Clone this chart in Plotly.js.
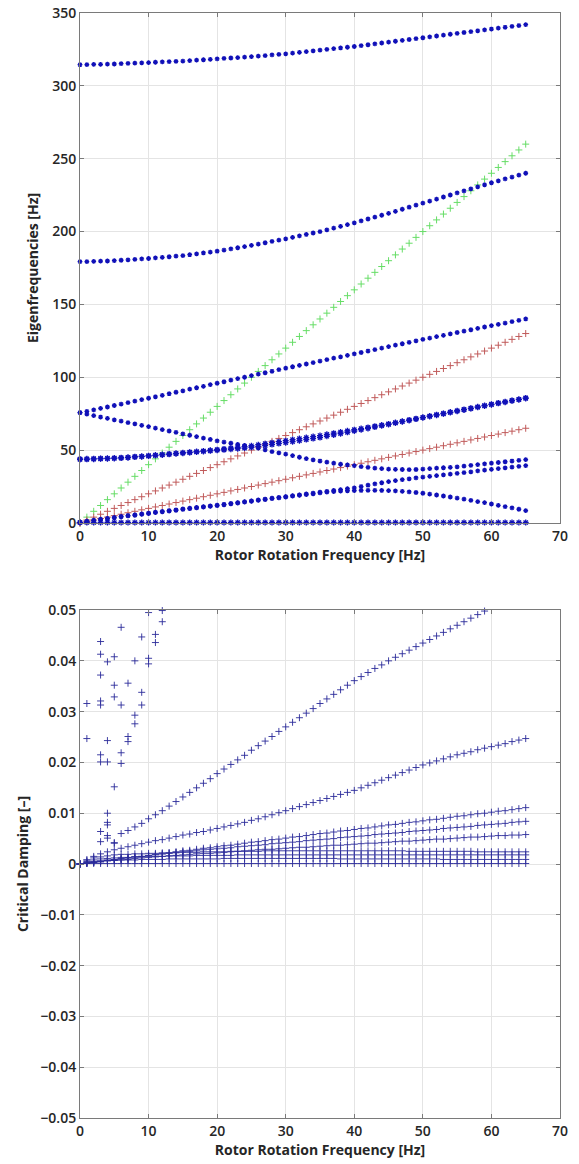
<!DOCTYPE html>
<html>
<head>
<meta charset="utf-8">
<script src="https://cdn.plot.ly/plotly-3.0.1.min.js"></script>
<style>html,body{margin:0;padding:0;background:#fff;}#chart{width:579px;height:1164px;}</style>
</head>
<body>
<div id="chart"></div>
<script>
// ---------- shared x (rotor rotation frequency, Hz) ----------
const rotorHz = [0,1,2,3,4,5,6,7,8,9,10,11,12,13,14,15,16,17,18,19,20,21,22,23,24,25,26,27,28,29,30,31,32,33,34,35,36,37,38,39,40,41,42,43,44,45,46,47,48,49,50,51,52,53,54,55,56,57,58,59,60,61,62,63,64,65];

// ---------- top: eigenfrequencies [Hz] ----------
const modeA = [314.5,314.6,314.7,314.8,314.9,315.0,315.2,315.4,315.6,315.8,316.0,316.2,316.4,316.6,316.8,317.0,317.3,317.6,317.9,318.2,318.5,318.8,319.1,319.4,319.7,320.0,320.4,320.8,321.2,321.6,322.0,322.5,323.0,323.5,324.0,324.5,325.0,325.5,326.0,326.5,327.0,327.6,328.2,328.8,329.4,330.0,330.6,331.2,331.8,332.4,333.0,333.6,334.2,334.8,335.4,336.0,336.6,337.2,337.8,338.4,339.0,339.6,340.2,340.8,341.4,342.0];
const modeB = [179.3,179.4,179.5,179.7,179.8,180.0,180.3,180.6,180.9,181.2,181.5,181.9,182.3,182.7,183.1,183.5,184.1,184.7,185.3,185.9,186.5,187.3,188.1,188.9,189.7,190.5,191.4,192.3,193.2,194.1,195.0,196.0,197.0,198.0,199.0,200.0,201.2,202.4,203.6,204.8,206.0,207.3,208.6,209.9,211.2,212.5,213.9,215.3,216.7,218.1,219.5,220.9,222.3,223.7,225.1,226.5,227.9,229.3,230.7,232.1,233.5,234.8,236.1,237.4,238.7,240.0];
const modeC = [75.7,76.6,77.6,78.6,79.6,80.6,81.6,82.6,83.6,84.6,85.6,86.6,87.6,88.7,89.7,90.7,91.8,92.8,93.8,94.9,95.9,96.9,98.0,99.0,100.0,101.1,102.1,103.1,104.1,105.2,106.2,107.2,108.1,109.1,110.1,111.1,112.1,113.1,114.0,115.0,116.0,117.0,118.0,119.0,120.0,121.0,122.0,123.0,124.0,125.0,126.0,126.9,127.9,128.8,129.8,130.7,131.6,132.6,133.5,134.5,135.4,136.3,137.2,138.2,139.1,140.0];
const modeD = [75.7,74.7,73.7,72.7,71.8,70.8,69.9,68.9,68.0,67.0,66.1,65.1,64.1,63.1,62.2,61.2,60.2,59.2,58.2,57.3,56.3,55.5,54.7,53.9,53.2,52.4,51.3,50.2,49.0,48.1,47.3,46.2,45.1,44.1,43.3,42.5,41.7,41.0,40.3,39.8,39.3,38.7,38.1,37.6,37.3,37.0,36.8,36.7,36.6,36.7,37.0,37.3,37.6,37.9,38.2,38.5,39.0,39.5,40.0,40.5,41.0,41.5,42.0,42.5,43.0,43.5];
const modeG1 = [43.9,44.0,44.1,44.3,44.4,44.6,44.8,45.1,45.5,45.8,46.2,46.6,47.0,47.4,47.8,48.2,48.6,49.0,49.4,49.9,50.3,50.8,51.3,51.9,52.4,53.0,53.7,54.4,55.1,55.8,56.5,57.2,57.9,58.6,59.3,60.0,60.8,61.6,62.4,63.2,64.0,64.8,65.6,66.4,67.2,68.0,68.9,69.8,70.7,71.6,72.5,73.4,74.3,75.2,76.1,77.0,77.9,78.8,79.7,80.6,81.5,82.4,83.2,84.1,84.9,85.8];
const modeG2 = [43.6,43.7,43.8,44.0,44.1,44.3,44.5,44.8,45.2,45.5,45.9,46.3,46.7,47.1,47.5,47.9,48.3,48.7,49.1,49.5,49.9,50.2,50.6,51.0,51.4,51.9,52.5,53.1,53.8,54.5,55.1,55.8,56.5,57.2,57.9,58.6,59.5,60.4,61.3,62.2,63.1,64.0,64.9,65.8,66.7,67.6,68.6,69.5,70.4,71.3,72.2,73.1,74.0,74.9,75.8,76.7,77.6,78.5,79.4,80.3,81.2,82.1,82.9,83.8,84.6,85.5];
const modeF1 = [0.5,1.2,1.9,2.6,3.2,3.8,4.5,5.1,5.6,6.2,6.8,7.4,7.9,8.5,9.0,9.6,10.1,10.6,11.2,11.7,12.2,12.8,13.4,14.0,14.6,15.2,15.8,16.4,17.0,17.5,18.1,18.7,19.3,19.9,20.5,21.1,21.7,22.3,22.9,23.5,24.1,25.0,25.9,26.8,27.6,28.4,29.1,29.7,30.3,30.9,31.5,32.0,32.5,33.0,33.5,34.0,34.6,35.1,35.7,36.2,36.8,37.3,37.8,38.3,38.8,39.3];
const modeF2 = [0.2,0.9,1.6,2.3,2.9,3.5,4.2,4.8,5.3,5.9,6.5,7.1,7.6,8.2,8.7,9.3,9.8,10.3,10.9,11.4,11.9,12.5,13.1,13.7,14.3,14.9,15.5,16.1,16.7,17.2,17.8,18.4,19.0,19.5,20.0,20.6,21.2,21.6,21.9,22.1,22.2,22.3,22.4,22.4,22.3,22.2,22.0,21.7,21.3,20.9,20.4,19.8,19.2,18.5,17.8,17.1,16.3,15.5,14.7,13.9,13.0,12.1,11.2,10.3,9.4,8.5];
const modeZero = [0.3,0.3,0.3,0.3,0.3,0.3,0.3,0.3,0.3,0.3,0.3,0.3,0.3,0.3,0.3,0.3,0.3,0.3,0.3,0.3,0.3,0.3,0.3,0.3,0.3,0.3,0.3,0.3,0.3,0.3,0.3,0.3,0.3,0.3,0.3,0.3,0.3,0.3,0.3,0.3,0.3,0.3,0.3,0.3,0.3,0.3,0.3,0.3,0.3,0.3,0.3,0.3,0.3,0.3,0.3,0.3,0.3,0.3,0.3,0.3,0.3,0.3,0.3,0.3,0.3,0.3];
const order4x = [0,4,8,12,16,20,24,28,32,36,40,44,48,52,56,60,64,68,72,76,80,84,88,92,96,100,104,108,112,116,120,124,128,132,136,140,144,148,152,156,160,164,168,172,176,180,184,188,192,196,200,204,208,212,216,220,224,228,232,236,240,244,248,252,256,260];
const order2x = [0,2,4,6,8,10,12,14,16,18,20,22,24,26,28,30,32,34,36,38,40,42,44,46,48,50,52,54,56,58,60,62,64,66,68,70,72,74,76,78,80,82,84,86,88,90,92,94,96,98,100,102,104,106,108,110,112,114,116,118,120,122,124,126,128,130];
const order1x = [0,1,2,3,4,5,6,7,8,9,10,11,12,13,14,15,16,17,18,19,20,21,22,23,24,25,26,27,28,29,30,31,32,33,34,35,36,37,38,39,40,41,42,43,44,45,46,47,48,49,50,51,52,53,54,55,56,57,58,59,60,61,62,63,64,65];

// ---------- bottom: critical damping [-] ----------
const damp1 = [null,null,null,null,null,0.0041,0.0060,0.0066,0.0073,0.0080,0.0089,0.0097,0.0105,0.0114,0.0123,0.0132,0.0141,0.0150,0.0159,0.0168,0.0178,0.0187,0.0196,0.0205,0.0214,0.0224,0.0233,0.0242,0.0251,0.0261,0.0270,0.0279,0.0288,0.0297,0.0306,0.0316,0.0325,0.0334,0.0343,0.0352,0.0361,0.0369,0.0377,0.0385,0.0392,0.0400,0.0407,0.0414,0.0421,0.0428,0.0435,0.0442,0.0449,0.0456,0.0463,0.0470,0.0477,0.0484,0.0491,0.0498,0.0505,0.0512,0.0519,0.0526,0.0533,0.0540];
const damp2 = [0,0.0008,0.0015,0.0020,0.0024,0.0028,0.0031,0.0034,0.0037,0.0040,0.0043,0.0046,0.0048,0.0051,0.0054,0.0057,0.0059,0.0062,0.0064,0.0067,0.0070,0.0073,0.0076,0.0079,0.0082,0.0086,0.0089,0.0093,0.0097,0.0101,0.0105,0.0109,0.0113,0.0117,0.0121,0.0125,0.0129,0.0133,0.0137,0.0141,0.0145,0.0150,0.0155,0.0160,0.0165,0.0170,0.0175,0.0180,0.0185,0.0190,0.0195,0.0199,0.0203,0.0207,0.0211,0.0215,0.0218,0.0221,0.0225,0.0228,0.0231,0.0234,0.0237,0.0241,0.0244,0.0247];
const damp3 = [0,0.0002,0.0003,0.0005,0.0007,0.0009,0.0010,0.0012,0.0014,0.0015,0.0017,0.0019,0.0020,0.0022,0.0024,0.0026,0.0027,0.0029,0.0031,0.0032,0.0034,0.0036,0.0037,0.0039,0.0041,0.0043,0.0044,0.0046,0.0048,0.0049,0.0051,0.0053,0.0054,0.0056,0.0058,0.0060,0.0061,0.0063,0.0065,0.0066,0.0068,0.0070,0.0071,0.0073,0.0075,0.0077,0.0078,0.0080,0.0082,0.0083,0.0085,0.0087,0.0088,0.0090,0.0092,0.0094,0.0095,0.0097,0.0099,0.0100,0.0102,0.0104,0.0105,0.0107,0.0109,0.0111];
const damp4 = [0,0.0002,0.0004,0.0006,0.0008,0.0009,0.0011,0.0012,0.0014,0.0015,0.0017,0.0018,0.0020,0.0021,0.0023,0.0024,0.0025,0.0026,0.0028,0.0029,0.0030,0.0031,0.0032,0.0034,0.0035,0.0036,0.0037,0.0038,0.0040,0.0041,0.0042,0.0043,0.0044,0.0046,0.0047,0.0048,0.0049,0.0050,0.0052,0.0053,0.0054,0.0055,0.0056,0.0058,0.0059,0.0060,0.0061,0.0062,0.0064,0.0065,0.0066,0.0067,0.0068,0.0070,0.0071,0.0072,0.0073,0.0074,0.0076,0.0077,0.0078,0.0079,0.0080,0.0082,0.0083,0.0084];
const damp5 = [0,0.0001,0.0003,0.0004,0.0006,0.0007,0.0008,0.0009,0.0011,0.0012,0.0013,0.0014,0.0015,0.0016,0.0017,0.0018,0.0019,0.0020,0.0021,0.0021,0.0022,0.0023,0.0024,0.0025,0.0026,0.0027,0.0028,0.0029,0.0029,0.0030,0.0031,0.0032,0.0033,0.0033,0.0034,0.0035,0.0036,0.0037,0.0037,0.0038,0.0039,0.0040,0.0041,0.0041,0.0042,0.0043,0.0044,0.0045,0.0045,0.0046,0.0047,0.0048,0.0049,0.0049,0.0050,0.0051,0.0052,0.0053,0.0053,0.0054,0.0055,0.0056,0.0056,0.0057,0.0057,0.0058];
const damp6 = [0,0.0008,0.0012,0.0014,0.0016,0.0018,0.0019,0.0019,0.0020,0.0020,0.0021,0.0021,0.0022,0.0022,0.0022,0.0023,0.0023,0.0023,0.0024,0.0024,0.0024,0.0024,0.0025,0.0025,0.0025,0.0025,0.0025,0.0026,0.0026,0.0026,0.0026,0.0026,0.0026,0.0026,0.0026,0.0026,0.0026,0.0026,0.0026,0.0026,0.0026,0.0026,0.0026,0.0026,0.0026,0.0026,0.0026,0.0026,0.0025,0.0025,0.0025,0.0025,0.0025,0.0025,0.0025,0.0025,0.0025,0.0025,0.0024,0.0024,0.0024,0.0024,0.0024,0.0024,0.0024,0.0024];
const damp7 = [0,0.0005,0.0008,0.0010,0.0011,0.0012,0.0013,0.0013,0.0014,0.0014,0.0015,0.0015,0.0015,0.0016,0.0016,0.0016,0.0016,0.0017,0.0017,0.0017,0.0017,0.0017,0.0017,0.0018,0.0018,0.0018,0.0018,0.0018,0.0018,0.0018,0.0018,0.0018,0.0018,0.0018,0.0018,0.0018,0.0018,0.0018,0.0018,0.0018,0.0018,0.0018,0.0018,0.0018,0.0018,0.0018,0.0018,0.0018,0.0018,0.0018,0.0018,0.0018,0.0018,0.0018,0.0018,0.0018,0.0018,0.0018,0.0018,0.0018,0.0018,0.0018,0.0018,0.0018,0.0018,0.0018];
const damp8 = [0,0.0003,0.0005,0.0006,0.0007,0.0007,0.0008,0.0008,0.0008,0.0009,0.0009,0.0009,0.0009,0.0010,0.0010,0.0010,0.0010,0.0010,0.0010,0.0010,0.0010,0.0011,0.0011,0.0011,0.0011,0.0011,0.0011,0.0011,0.0011,0.0011,0.0011,0.0011,0.0011,0.0011,0.0011,0.0011,0.0011,0.0011,0.0010,0.0010,0.0010,0.0010,0.0010,0.0010,0.0010,0.0010,0.0010,0.0010,0.0010,0.0010,0.0010,0.0010,0.0010,0.0009,0.0009,0.0009,0.0009,0.0009,0.0009,0.0009,0.0009,0.0009,0.0009,0.0009,0.0009,0.0009];
const damp9 = [0,0.0001,0.0001,0.0001,0.0001,0.0001,0.0001,0.0001,0.0001,0.0001,0.0001,0.0001,0.0001,0.0001,0.0001,0.0001,0.0001,0.0001,0.0001,0.0001,0.0001,0.0001,0.0001,0.0001,0.0001,0.0001,0.0001,0.0001,0.0001,0.0001,0.0001,0.0001,0.0001,0.0001,0.0001,0.0001,0.0001,0.0001,0.0001,0.0001,0.0001,0.0001,0.0001,0.0001,0.0001,0.0001,0.0001,0.0001,0.0001,0.0001,0.0001,0.0001,0.0001,0.0001,0.0001,0.0001,0.0001,0.0001,0.0001,0.0001,0.0001,0.0001,0.0001,0.0001,0.0001,0.0001];
const scatterHz = [1,1,3,3,3,3,3,3,3,3,3,4,4,4,4,4,4,4,4,5,5,5,5,5,6,6,6,6,7,7,7,8,8,8,9,9,9,10,10,10,11,11,12,12];
const scatterDamp = [0.0316,0.0247,0.0438,0.0413,0.0372,0.0321,0.0313,0.0215,0.0201,0.0064,0.0044,0.0398,0.0243,0.0201,0.0100,0.0082,0.0077,0.0056,0.0051,0.0408,0.0352,0.0329,0.0152,0.0042,0.0466,0.0313,0.0219,0.0198,0.0356,0.0251,0.0241,0.0400,0.0293,0.0276,0.0447,0.0338,0.0313,0.0495,0.0405,0.0394,0.0452,0.0436,0.0499,0.0477];

// ---------- build traces ----------
const BLUE = '#1010b8';
const DBLUE = '#2a2a9a';
function star(y, sz){ return {x: rotorHz, y: y, type:'scatter', mode:'markers', xaxis:'x', yaxis:'y', cliponaxis:false,
  marker:{symbol:'asterisk-open', size: sz||4, color: BLUE, line:{color: BLUE, width: 1.3}}, hoverinfo:'skip'}; }
function plus(y, col){ return {x: rotorHz, y: y, type:'scatter', mode:'markers', xaxis:'x', yaxis:'y', cliponaxis:false,
  marker:{symbol:'cross-thin-open', size: 5, color: col, line:{color: col, width: 1}}, hoverinfo:'skip'}; }
function dplus(xv, y){ return {x: xv, y: y, type:'scatter', mode:'markers', xaxis:'x2', yaxis:'y2', cliponaxis:false,
  marker:{symbol:'cross-thin-open', size: 5, color: DBLUE, line:{color: DBLUE, width: 0.9}}, hoverinfo:'skip'}; }

const traces = [
  plus(order4x, '#66dd66'),
  plus(order2x, '#c05a5a'),
  plus(order1x, '#c05a5a'),
  star(modeA), star(modeB), star(modeC), star(modeD),
  star(modeG1, 5), star(modeG2, 5), star(modeF1), star(modeF2), star(modeZero, 5),
  dplus(rotorHz, damp9), dplus(rotorHz, damp8), dplus(rotorHz, damp7), dplus(rotorHz, damp6),
  dplus(rotorHz, damp5), dplus(rotorHz, damp4), dplus(rotorHz, damp3), dplus(rotorHz, damp2),
  dplus(rotorHz, damp1), dplus(scatterHz, scatterDamp)
];

const tickFont = {family:'"Open Sans", "DejaVu Sans", sans-serif', size:14, color:'#262626', weight:600};
const titleFont = {family:'"Open Sans", "DejaVu Sans", sans-serif', size:14, color:'#262626', weight:700};
function xax(anchor){ return {anchor: anchor, range:[0,70], dtick:10, tick0:0, showgrid:true, gridcolor:'#e4e4e4', gridwidth:1,
  zeroline:false, showline:true, linecolor:'#7a7a7a', linewidth:1, mirror:'ticks', ticks:'inside', ticklen:4, tickcolor:'#7a7a7a',
  tickfont: tickFont, title:{text:'Rotor Rotation Frequency [Hz]', font:titleFont, standoff:2}}; }

const layout = {
  width:579, height:1164, showlegend:false,
  paper_bgcolor:'#ffffff', plot_bgcolor:'#ffffff',
  margin:{l:80, r:19, t:13, b:46},
  xaxis: xax('y'),
  xaxis2: xax('y2'),
  yaxis: {domain:[0.5385,1], anchor:'x', range:[0,350], dtick:50, tick0:0, showgrid:true, gridcolor:'#e4e4e4',
    zeroline:false, showline:true, linecolor:'#7a7a7a', linewidth:1, mirror:'ticks', ticks:'inside', ticklen:4, tickcolor:'#7a7a7a',
    tickfont: tickFont, title:{text:'Eigenfrequencies [Hz]', font:titleFont, standoff:10}},
  yaxis2: {domain:[0,0.4597], anchor:'x2', range:[-0.05,0.05], dtick:0.01, tick0:0, showgrid:true, gridcolor:'#e4e4e4',
    zeroline:false, showline:true, linecolor:'#7a7a7a', linewidth:1, mirror:'ticks', ticks:'inside', ticklen:4, tickcolor:'#7a7a7a',
    tickfont: tickFont, title:{text:'Critical Damping [–]', font:titleFont, standoff:8}}
};

Plotly.newPlot('chart', traces, layout, {staticPlot:true, displayModeBar:false});
</script>
</body>
</html>
